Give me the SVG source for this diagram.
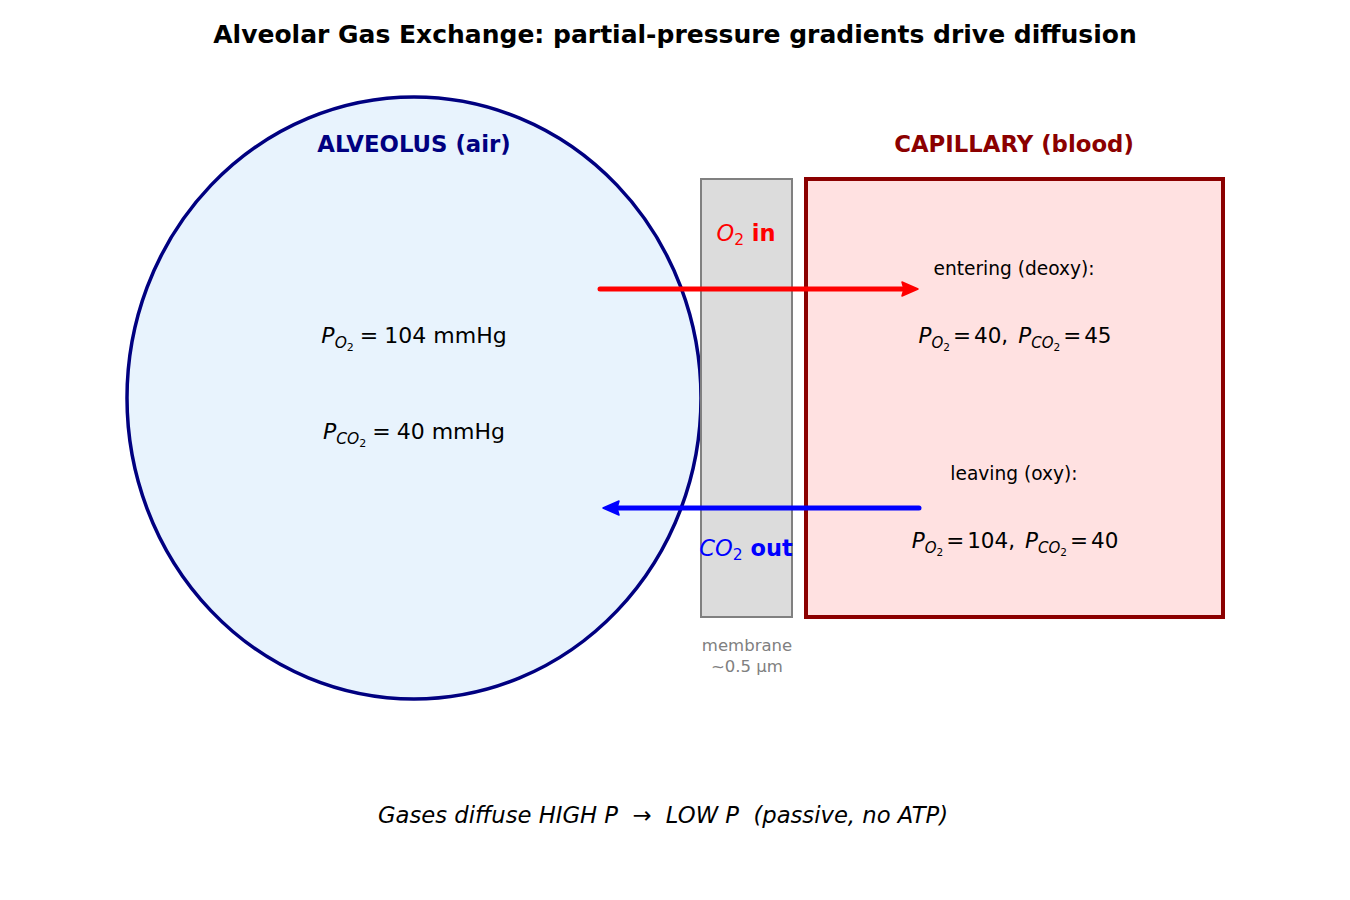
<svg xmlns="http://www.w3.org/2000/svg" width="1350" height="900" viewBox="0 0 1350 900">
<style>
text{font-family:"DejaVu Sans","Liberation Sans",sans-serif;white-space:pre;}
.title{font-size:25px;font-weight:bold;fill:#000;}
.head{font-size:22.8px;font-weight:bold;}
.math{font-size:21.5px;fill:#000;}
.math2{font-size:22px;fill:#000;}
.lbl{font-size:18.6px;fill:#000;}
.it{font-style:italic;}
.mem{font-size:16.5px;fill:#808080;}
.conn{stroke-width:5;stroke-linecap:round;fill:none;}
</style>
<rect width="1350" height="900" fill="#ffffff"/>
<text class="title" x="675" y="43" text-anchor="middle">Alveolar Gas Exchange: partial-pressure gradients drive diffusion</text>

<g id="alveolus">
<ellipse cx="414" cy="398" rx="287" ry="301" fill="#e8f3fd" stroke="#000080" stroke-width="3.5"/>
<text class="head" x="414" y="152" text-anchor="middle" fill="#000080">ALVEOLUS (air)</text>
<text class="math2" x="414" y="343" text-anchor="middle"><tspan class="it">P</tspan><tspan class="it" font-size="15.5" dy="5">O</tspan><tspan font-size="11" dy="3">2</tspan><tspan dy="-8" dx="6">=</tspan><tspan dx="6">104 mmHg</tspan></text>
<text class="math2" x="414" y="439" text-anchor="middle"><tspan class="it">P</tspan><tspan class="it" font-size="15.5" dy="5">CO</tspan><tspan font-size="11" dy="3">2</tspan><tspan dy="-8" dx="6">=</tspan><tspan dx="6">40 mmHg</tspan></text>
</g>

<g id="membrane">
<rect x="701" y="179" width="91" height="438" fill="#dcdcdc" stroke="#808080" stroke-width="2"/>
<text class="mem" x="747" y="651" text-anchor="middle">membrane</text>
<text class="mem" x="747" y="672" text-anchor="middle">~0.5 µm</text>
</g>

<g id="capillary">
<rect x="806" y="179" width="417" height="438" fill="#ffe1e1" stroke="#8b0000" stroke-width="4"/>
<text class="head" x="1014" y="152" text-anchor="middle" fill="#8b0000">CAPILLARY (blood)</text>
<text class="lbl" x="1014" y="275" text-anchor="middle">entering (deoxy):</text>
<text class="math" x="1015" y="343" text-anchor="middle"><tspan class="it">P</tspan><tspan class="it" font-size="15" dy="5">O</tspan><tspan font-size="10.5" dy="3">2</tspan><tspan dy="-8" dx="3">=</tspan><tspan dx="3">40,</tspan><tspan dx="10" class="it">P</tspan><tspan class="it" font-size="15" dy="5">CO</tspan><tspan font-size="10.5" dy="3">2</tspan><tspan dy="-8" dx="3">=</tspan><tspan dx="3">45</tspan></text>
<text class="lbl" x="1014" y="480" text-anchor="middle">leaving (oxy):</text>
<text class="math" x="1015" y="548" text-anchor="middle"><tspan class="it">P</tspan><tspan class="it" font-size="15" dy="5">O</tspan><tspan font-size="10.5" dy="3">2</tspan><tspan dy="-8" dx="3">=</tspan><tspan dx="3">104,</tspan><tspan dx="10" class="it">P</tspan><tspan class="it" font-size="15" dy="5">CO</tspan><tspan font-size="10.5" dy="3">2</tspan><tspan dy="-8" dx="3">=</tspan><tspan dx="3">40</tspan></text>
</g>

<g id="connectors">
<line class="conn" x1="600" y1="289" x2="906" y2="289" stroke="#ff0000"/>
<path d="M918,289 L902,282 L904,289 L902,296 Z" fill="#ff0000" stroke="#ff0000" stroke-width="1.5" stroke-linejoin="round"/>
<line class="conn" x1="919" y1="508" x2="615" y2="508" stroke="#0000ff"/>
<path d="M603,508 L619,501 L617,508 L619,515 Z" fill="#0000ff" stroke="#0000ff" stroke-width="1.5" stroke-linejoin="round"/>
</g>

<g id="o2-label">
<text x="746" y="241" text-anchor="middle" font-size="22.5" fill="#ff0000"><tspan class="it">O</tspan><tspan font-size="15.5" dy="4">2</tspan><tspan dy="-4" font-weight="bold"> in</tspan></text>
</g>
<g id="co2-label">
<text x="746" y="556" text-anchor="middle" font-size="22.5" fill="#0000ff"><tspan class="it">CO</tspan><tspan font-size="15.5" dy="4">2</tspan><tspan dy="-4" font-weight="bold"> out</tspan></text>
</g>

<text x="663" y="823" text-anchor="middle" font-size="22.7" font-style="italic" fill="#000">Gases diffuse HIGH P  →  LOW P  (passive, no ATP)</text>
</svg>
